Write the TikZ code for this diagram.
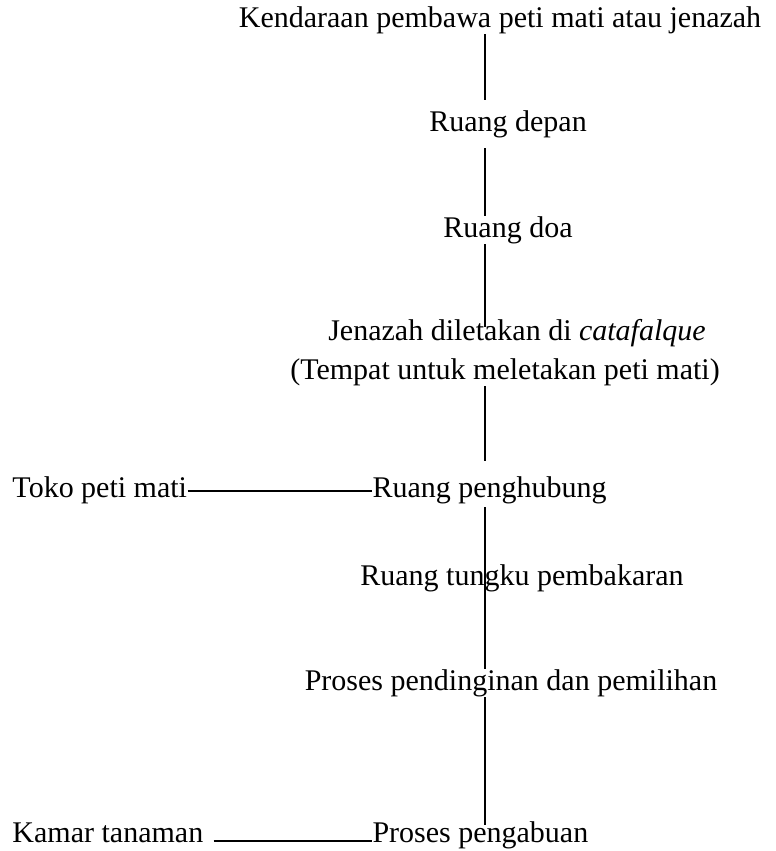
\documentclass[tikz,border=0pt]{standalone}
\usepackage{fontspec}
\setmainfont{Liberation Serif}
\usetikzlibrary{positioning,calc}

\begin{document}
\begin{tikzpicture}[
    x=0.4pt, y=-0.4pt,
    lbl/.style={inner sep=0pt, font=\fontsize{12}{14}\selectfont},
    link/.style={line width=0.6pt}
]
    \useasboundingbox (0,0) rectangle (775,851);
    \coordinate (axis) at (485,0);

    \node[lbl] (kendaraan) at (500,20) {Kendaraan pembawa peti mati atau jenazah};
    \node[lbl] (depan) at (508,124) {Ruang depan};
    \node[lbl] (doa) at (508,230) {Ruang doa};
    \node[lbl] (jenazah) at (517,333) {Jenazah diletakan di \textit{catafalque}};
    \node[lbl] (tempat) at (505,372) {(Tempat untuk meletakan peti mati)};
    \node[lbl, anchor=base west] (toko) at (12,497) {Toko peti mati};
    \node[lbl, anchor=base west] (hubung) at (372,497) {Ruang penghubung};
    \node[lbl] (tungku) at (522,578) {Ruang tungku pembakaran};
    \node[lbl] (dingin) at (511,683) {Proses pendinginan dan pemilihan};
    \node[lbl, anchor=base west] (kamar) at (12,842) {Kamar tanaman};
    \node[lbl, anchor=base west] (abu) at (372,842) {Proses pengabuan};

    \draw[link, shorten >=4pt] (kendaraan.south -| axis) -- (depan.north -| axis);
    \draw[link, shorten <=4pt] (depan.south -| axis) -- (doa.north -| axis);
    \draw[link, shorten >=2.4pt] (doa.south -| axis) -- (jenazah.center -| axis);
    \draw[link, shorten >=5.8pt] (tempat.south -| axis) -- (hubung.north -| axis);
    \draw[link, shorten <=1.4pt] (hubung.south -| axis) -- (dingin.north -| axis);
    \draw[link, shorten >=4pt] (dingin.south -| axis) -- (abu.center -| axis);
    \draw[link] ([yshift=2.4pt]toko.base east) -- ([yshift=2.4pt]hubung.base west);
    \draw[link, line width=0.8pt, shorten <=4pt] ([yshift=0.4pt]kamar.base east) -- ([yshift=0.4pt]abu.base west);
\end{tikzpicture}
\end{document}
